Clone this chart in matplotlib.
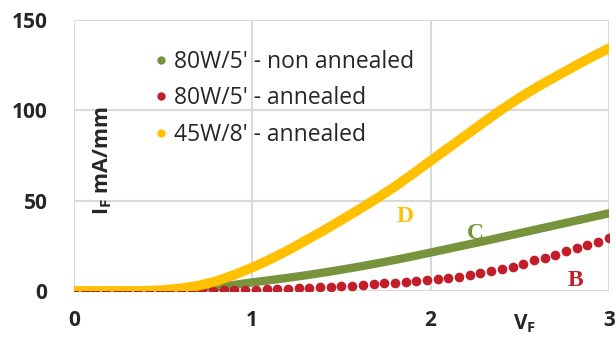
import matplotlib
matplotlib.use('Agg')
import matplotlib.pyplot as plt
from matplotlib.lines import Line2D

# forward voltage sample points (V)
v_fine = [0.0, 0.1, 0.2, 0.3, 0.4, 0.5, 0.6, 0.7, 0.8, 0.9,
          1.0, 1.1, 1.2, 1.3, 1.4, 1.5, 1.6, 1.7, 1.8, 1.9,
          2.0, 2.1, 2.2, 2.3, 2.4, 2.5, 2.6, 2.7, 2.8, 2.9, 3.0]
v_dots = [0.0, 0.06, 0.12, 0.18, 0.24, 0.30, 0.36, 0.42, 0.48, 0.54,
          0.60, 0.66, 0.72, 0.78, 0.84, 0.90, 0.96, 1.02, 1.08, 1.14,
          1.20, 1.26, 1.32, 1.38, 1.44, 1.50, 1.56, 1.62, 1.68, 1.74,
          1.80, 1.86, 1.92, 1.98, 2.04, 2.10, 2.16, 2.22, 2.28, 2.34,
          2.40, 2.46, 2.52, 2.58, 2.64, 2.70, 2.76, 2.82, 2.88, 2.94, 3.00]

# forward current (mA/mm)
i_80w_non = [0, 0, 0, 0, 0.05, 0.2, 0.5, 1.2, 2.2, 3.4,
             4.8, 6.0, 7.3, 8.7, 10.2, 11.8, 13.5, 15.3, 17.2, 19.2,
             21.3, 23.4, 25.5, 27.6, 29.8, 32.0, 34.2, 36.4, 38.6, 40.8, 43.0]
i_80w_ann = [0, 0, 0, 0, 0, 0, 0, 0, 0, 0,
             0.05, 0.1, 0.15, 0.2, 0.3, 0.4, 0.5, 0.7, 0.9, 1.1,
             1.3, 1.5, 1.8, 2.1, 2.4, 2.7, 3.0, 3.4, 3.8, 4.2,
             4.6, 5.1, 5.6, 6.1, 6.7, 7.3, 7.9, 8.9, 10.1, 11.0,
             12.0, 13.5, 15.2, 17.0, 18.5, 20.2, 22.0, 23.7, 25.6, 27.4, 29.2]
i_45w_ann = [0, 0, 0, 0, 0.1, 0.5, 1.5, 3.0, 5.5, 9.0,
             13.0, 17.5, 22.5, 28.0, 33.5, 39.3, 45.2, 51.3, 57.8, 64.8,
             72.0, 79.2, 86.3, 93.5, 100.5, 107.0, 113.0, 118.5, 124.0, 129.3, 134.3]

labels = ["80W/5' - non annealed", "80W/5' - annealed", "45W/8' - annealed"]
colors = ['#77933C', '#C21E2A', '#FFC000']
text_color = '#262626'

plt.rcParams['font.family'] = ['Open Sans', 'DejaVu Sans']
plt.rcParams['mathtext.fontset'] = 'custom'
plt.rcParams['mathtext.bf'] = 'Open Sans:bold'
plt.rcParams['mathtext.rm'] = 'Open Sans'

fig = plt.figure(figsize=(6.15, 3.38), dpi=100)
ax = fig.add_axes([0.1203, 0.139, 0.8697, 0.802])

ax.plot(v_fine, i_80w_non, color=colors[0], lw=6.0,
        solid_capstyle='round', zorder=3)
ax.plot(v_dots, i_80w_ann, 'o', color=colors[1], ms=7.0, mew=0, zorder=4)
ax.plot(v_fine, i_45w_ann, color=colors[2], lw=7.0,
        solid_capstyle='round', zorder=5)

ax.set_xlim(0, 3)
ax.set_ylim(0, 150)
ax.set_xticks([0, 1, 2, 3])
ax.set_yticks([0, 50, 100, 150])
ax.grid(True, color='#D9D9D9', lw=1.5, zorder=0)
ax.set_axisbelow(True)
for s in ax.spines.values():
    s.set_visible(False)
ax.tick_params(length=0, labelsize=15, labelcolor=text_color)
ax.tick_params(axis='y', pad=19)
ax.tick_params(axis='x', pad=14)
for t in ax.get_xticklabels() + ax.get_yticklabels():
    t.set_fontweight('bold')

ax.text(0.16, 72.5, r'I$_\mathbf{F}$ mA/mm', rotation=90, fontsize=15.5,
        fontweight='bold', color=text_color, ha='center', va='center')
ax.text(2.53, -18, r'V$_\mathbf{F}$', fontsize=15, fontweight='bold',
        color=text_color, ha='center', va='center', clip_on=False)

# curve tags
tags = [('D', 1.86, 41, colors[2]), ('C', 2.25, 32, colors[0]),
        ('B', 2.81, 6, colors[1])]
for txt, x, y, c in tags:
    ax.text(x, y, txt, fontsize=17, fontweight='bold', color=c,
            family='Liberation Serif', ha='center', va='center')

handles = [Line2D([], [], ls='none', marker='o', ms=6.0, mew=0, color=c)
           for c in colors]
leg = ax.legend(handles, labels, loc='upper left',
                bbox_to_anchor=(0.133, 0.924), frameon=False,
                fontsize=16.5, handlelength=0.55, handletextpad=0.3,
                labelspacing=0.55, borderaxespad=0)
for t in leg.get_texts():
    t.set_color(text_color)

fig.savefig('out.png', dpi=100)
